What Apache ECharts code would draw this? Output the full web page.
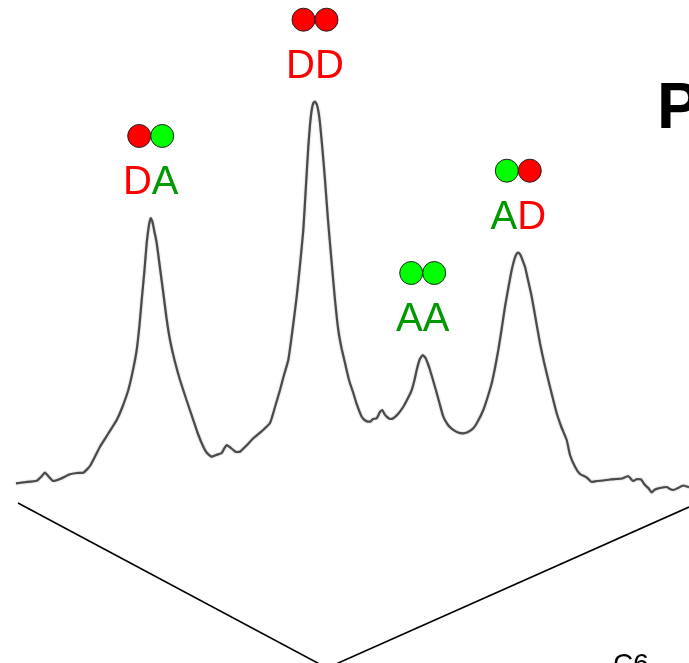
<!DOCTYPE html>
<html>
<head>
<meta charset="utf-8">
<script src="https://cdn.jsdelivr.net/npm/echarts@6/dist/echarts.min.js"></script>
<style>
  html, body { margin: 0; padding: 0; background: #ffffff; }
  #main { width: 689px; height: 663px; }
</style>
</head>
<body>
<div id="main"></div>
<script>
// Spectrum trace: position along the scan and measured intensity
const positions = [
  16, 25, 36.7, 41, 45, 49, 53.3, 60, 70, 77, 83.3, 90, 100, 108, 116.7, 122, 128.3, 133, 136.7, 139.5,
  141.7, 144.5, 146.7, 149, 150.7, 152.5, 154.5, 156.7, 160, 163.3, 166.5, 170, 175, 180, 186.5, 193.3,
  198, 203.3, 207, 211.7, 216, 221.7, 224.5, 226.7, 229.5, 233.3, 236, 240, 246, 253.3, 262, 270, 275,
  280, 284, 288.3, 292.5, 296.7, 300, 303.3, 306, 308.3, 310, 311.7, 313.3, 315, 317, 318.5, 320, 322.5,
  325, 328, 331.7, 335, 338.3, 341.5, 345, 349, 353.3, 357, 361.7, 366, 370, 373, 376.7, 380, 382.3,
  384.5, 386.7, 390, 393.3, 398, 403.3, 408, 411.7, 414.5, 416.7, 419.5, 422.7, 425.5, 428, 430, 433,
  436.7, 440, 443.3, 448, 453.3, 458, 463.3, 468, 473.3, 478, 483.3, 488, 491.7, 495, 498.3, 501.5, 505,
  508.5, 511.7, 514.5, 516.5, 518.3, 520.5, 522.5, 525, 528, 531.7, 535.5, 540, 544, 548.3, 552.5, 556.7,
  561, 566.7, 570, 575, 580, 586.7, 591.7, 597, 603.3, 610, 616.7, 622, 628.3, 631, 633.3, 637, 641, 645,
  648.3, 651.7, 655, 660, 666.7, 670, 673.3, 678, 683.3, 689
];
const intensity = [
  -0.28, 0.0, 0.37, 1.3, 2.36, 1.3, 0.29, 0.79, 1.96, 2.28, 2.36, 4.03, 8.83, 11.99, 15.47, 18.46, 22.94, 27.92, 32.9, 39.12,
  45.34, 52.8, 59.53, 64.0, 65.75, 64.75, 62.26, 59.53, 53.3, 47.08, 40.86, 35.38, 29.9, 25.43, 20.45, 15.47,
  11.99, 8.83, 7.26, 6.34, 6.76, 7.26, 8.51, 9.25, 8.76, 8.01, 7.51, 7.59, 8.99, 10.92, 12.74, 14.73, 18.71,
  22.94, 26.67, 30.41, 37.87, 46.16, 54.05, 62.76, 73.96, 83.49, 88.89, 92.62, 94.37, 94.69, 93.87, 92.13, 89.39, 82.67,
  75.2, 65.25, 54.55, 45.34, 37.87, 33.39, 29.66, 25.43, 22.19, 19.21, 16.3, 15.23, 15.05, 15.72, 15.9, 17.47, 17.96,
  16.97, 16.3, 15.72, 15.9, 16.97, 18.78, 20.95, 22.94, 25.43, 27.92, 30.41, 31.65, 30.9, 29.41, 27.92, 25.43,
  22.19, 19.21, 16.3, 14.23, 12.99, 12.36, 12.16, 12.49, 13.41, 15.23, 17.96, 21.45, 24.61, 28.42, 32.9, 37.87, 43.67,
  48.57, 52.8, 55.54, 56.79, 57.11, 56.54, 55.29, 53.63, 50.32, 46.16, 40.86, 34.56, 29.91, 25.43, 21.2, 17.14,
  13.98, 10.5, 6.76, 3.85, 2.04, 1.17, 0.05, 0.29, 0.42, 0.67, 0.79, 0.92, 1.54, 0.79, 0.29, 0.79, 0.67, -0.7,
  -1.45, -2.57, -1.82, -1.45, -1.2, -1.7, -1.95, -1.45, -0.83, -1.27
];

// Peak assignments (D = red, A = green)
const peakNames = ['DA', 'DD', 'AA', 'AD'];
const peakPositions = [150.7, 315, 422.7, 518.3];
const peakHeights = [65.75, 94.69, 31.65, 57.11];

const letterColor = { D: '#ff0000', A: '#009900' };
const dotColor = { D: '#ff0000', A: '#00ff00' };
const FONT = '"Liberation Sans", Arial, sans-serif';

const trace = positions.map((x, i) => [x, intensity[i]]);
const peaks = peakNames.map((n, i) => ({ name: n, value: [peakPositions[i], peakHeights[i]] }));

function dotSeries(idx, dx) {
  return {
    type: 'scatter',
    silent: true,
    symbol: 'circle',
    symbolSize: 23,
    symbolOffset: [dx, -82],
    z: 5,
    data: peaks.map(p => ({
      value: p.value,
      itemStyle: { color: dotColor[p.name[idx]], borderColor: '#222', borderWidth: 1, opacity: 1 }
    }))
  };
}

const rich = {};
Object.keys(letterColor).forEach(k => {
  rich[k] = { color: letterColor[k], fontSize: 40, fontFamily: FONT, opacity: 1 };
});

const chart = echarts.init(document.getElementById('main'), null, { renderer: 'canvas' });
chart.setOption({
  animation: false,
  backgroundColor: '#ffffff',
  grid: { left: 0, right: 0, top: 0, bottom: 0 },
  xAxis: { type: 'value', min: 0, max: 689, show: false },
  yAxis: { type: 'value', min: -45, max: 120, show: false },
  series: [
    {
      type: 'line',
      data: trace,
      showSymbol: false,
      smooth: 0.15,
      silent: true,
      lineStyle: { color: '#4a4a4a', width: 2.2, shadowColor: 'rgba(0,0,0,0.3)', shadowBlur: 2 }
    },
    dotSeries(0, -11.5),
    dotSeries(1, 11.5),
    {
      type: 'scatter',
      silent: true,
      symbolSize: 1,
      itemStyle: { color: '#ffffff', opacity: 0 },
      data: peaks,
      label: {
        show: true,
        opacity: 1,
        position: 'inside',
        offset: [0, -35],
        formatter: p => p.name.split('').map(c => '{' + c + '|' + c + '}').join(''),
        rich: rich
      }
    }
  ],
  graphic: [
    // projected axes of the 3D frame below the trace
    {
      type: 'polyline',
      silent: true,
      shape: { points: [[18, 503], [327, 668], [689, 507]] },
      style: { stroke: '#000000', lineWidth: 1.6, fill: null }
    },
    {
      type: 'text',
      silent: true,
      x: 657, y: 110,
      style: { text: 'P', font: 'bold 64px ' + FONT, fill: '#000000', verticalAlign: 'middle' }
    },
    {
      type: 'text',
      silent: true,
      x: 613, y: 665,
      style: { text: 'C6', font: '28px ' + FONT, fill: '#000000', verticalAlign: 'middle' }
    }
  ]
});
</script>
</body>
</html>
